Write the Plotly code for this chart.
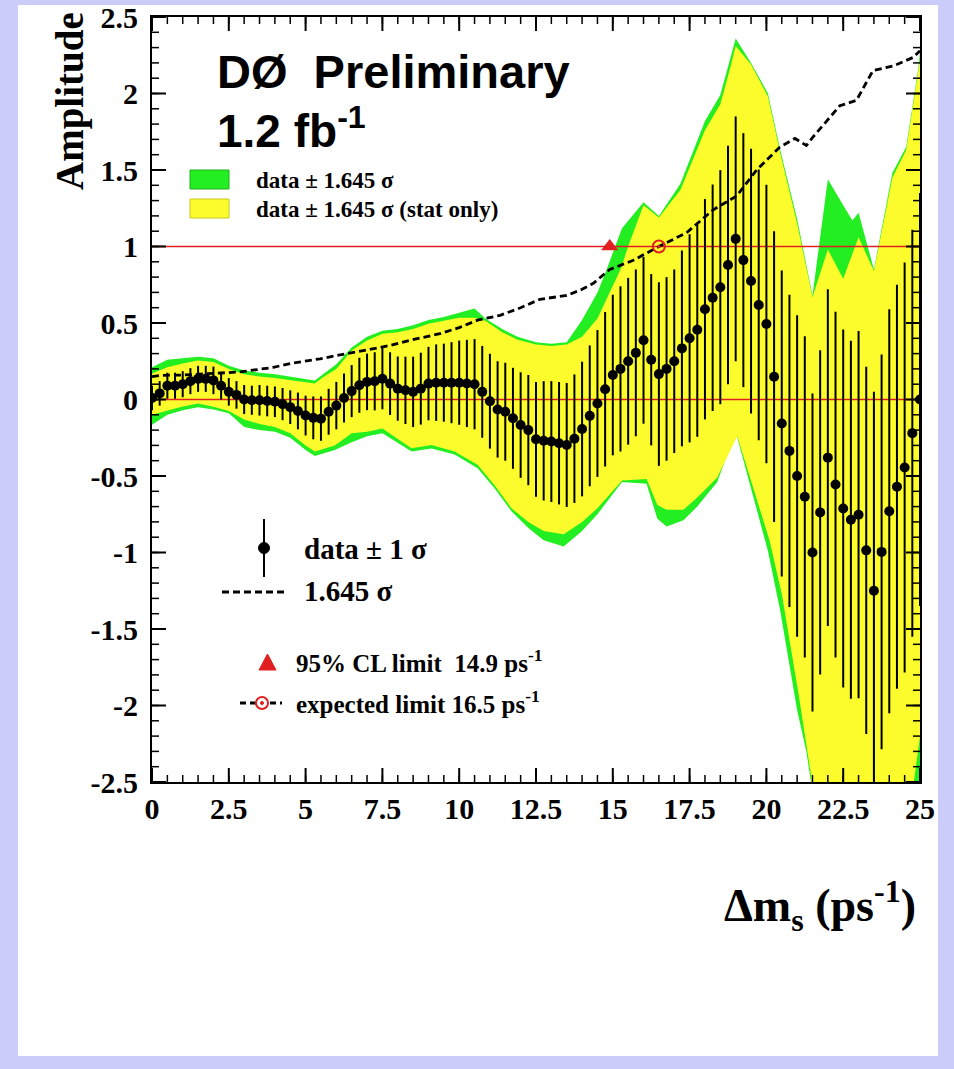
import plotly.graph_objects as go

# ---------------- data ----------------
dm_s = [0.0, 0.25, 0.5, 0.75, 1.0, 1.25, 1.5, 1.75, 2.0, 2.25, 2.5, 2.75, 3.0, 3.25, 3.5, 3.75,
        4.0, 4.25, 4.5, 4.75, 5.0, 5.25, 5.5, 5.75, 6.0, 6.25, 6.5, 6.75, 7.0, 7.25, 7.5, 7.75,
        8.0, 8.25, 8.5, 8.75, 9.0, 9.25, 9.5, 9.75, 10.0, 10.25, 10.5, 10.75, 11.0, 11.25, 11.5,
        11.75, 12.0, 12.25, 12.5, 12.75, 13.0, 13.25, 13.5, 13.75, 14.0, 14.25, 14.5, 14.75, 15.0,
        15.25, 15.5, 15.75, 16.0, 16.25, 16.5, 16.75, 17.0, 17.25, 17.5, 17.75, 18.0, 18.25, 18.5,
        18.75, 19.0, 19.25, 19.5, 19.75, 20.0, 20.25, 20.5, 20.75, 21.0, 21.25, 21.5, 21.75, 22.0,
        22.25, 22.5, 22.75, 23.0, 23.25, 23.5, 23.75, 24.0, 24.25, 24.5, 24.75, 25.0]

amplitude = [0.01, 0.04, 0.09, 0.09, 0.10, 0.12, 0.135, 0.135, 0.125, 0.09, 0.05, 0.03, 0.0,
             -0.005, -0.005, -0.01, -0.015, -0.03, -0.05, -0.075, -0.105, -0.12, -0.125, -0.08,
             -0.04, 0.01, 0.055, 0.093, 0.115, 0.119, 0.136, 0.104, 0.071, 0.06, 0.05, 0.071,
             0.104, 0.11, 0.11, 0.11, 0.11, 0.105, 0.10, 0.05, -0.011, -0.065, -0.08, -0.123,
             -0.167, -0.20, -0.26, -0.27, -0.275, -0.286, -0.297, -0.256, -0.193, -0.107, -0.026,
             0.067, 0.16, 0.20, 0.25, 0.305, 0.387, 0.26, 0.166, 0.20, 0.25, 0.334, 0.40, 0.456,
             0.59, 0.665, 0.734, 0.879, 1.05, 0.911, 0.774, 0.618, 0.494, 0.149, -0.157, -0.336,
             -0.50, -0.636, -1.00, -0.738, -0.38, -0.556, -0.712, -0.786, -0.753, -0.986, -1.25,
             -0.996, -0.73, -0.57, -0.444, -0.22, 0.0]

sigma = [0.08, 0.08, 0.085, 0.085, 0.085, 0.085, 0.085, 0.085, 0.09, 0.09, 0.09, 0.09, 0.095,
         0.095, 0.10, 0.10, 0.10, 0.105, 0.11, 0.12, 0.13, 0.14, 0.145, 0.15, 0.155, 0.16, 0.17,
         0.18, 0.185, 0.19, 0.20, 0.205, 0.21, 0.22, 0.23, 0.235, 0.24, 0.25, 0.255, 0.265, 0.275,
         0.285, 0.295, 0.30, 0.31, 0.315, 0.32, 0.33, 0.345, 0.36, 0.375, 0.39, 0.395, 0.40, 0.405,
         0.42, 0.44, 0.46, 0.48, 0.505, 0.525, 0.54, 0.545, 0.545, 0.545, 0.56, 0.60, 0.60, 0.60,
         0.64, 0.68, 0.70, 0.72, 0.74, 0.765, 0.78, 0.80, 0.83, 0.865, 0.885, 0.91, 0.95, 1.0,
         1.02, 1.05, 1.05, 1.04, 1.06, 1.10, 1.13, 1.17, 1.17, 1.2, 1.2, 1.3, 1.29, 1.32, 1.32,
         1.34, 1.33, 1.35]

# green band: data +- 1.645 sigma (total)
green_up_x = [0, 0.5, 1.0, 1.5, 2.0, 2.5, 3.0, 3.5, 4.0, 4.5, 5.0, 5.3, 5.6, 6.0, 6.5, 7.0, 7.5,
              8.0, 8.5, 9.0, 9.5, 10.0, 10.5, 10.85, 11.4, 11.9, 12.5, 13.0, 13.5, 14.0, 14.5,
              14.8, 15.3, 16.0, 16.5, 17.2, 18.0, 18.5, 19.0, 19.5, 20.05, 20.45, 21.0, 21.5,
              22.0, 22.5, 22.8, 23.0, 23.5, 24.1, 24.55, 24.95, 25.0]
green_up_y = [0.21, 0.26, 0.27, 0.28, 0.27, 0.22, 0.19, 0.175, 0.165, 0.15, 0.135, 0.125, 0.17,
              0.23, 0.34, 0.41, 0.45, 0.46, 0.485, 0.52, 0.54, 0.565, 0.595, 0.53, 0.46, 0.41,
              0.375, 0.365, 0.375, 0.52, 0.70, 0.85, 1.12, 1.29, 1.2, 1.41, 1.82, 1.99, 2.36,
              2.2, 2.0, 1.63, 1.18, 0.68, 1.44, 1.27, 1.17, 1.22, 0.85, 1.48, 1.65, 2.17, 2.28]
green_lo_x = [0, 0.5, 1.0, 1.5, 2.0, 2.5, 3.0, 3.5, 4.0, 4.5, 5.0, 5.3, 5.95, 6.5, 7.0, 7.5,
              8.45, 9.1, 9.85, 10.6, 11.15, 11.7, 12.25, 12.75, 13.4, 14.0, 14.5, 15.3, 16.1,
              16.45, 16.75, 17.3, 17.75, 18.4, 19.0, 20.05, 20.45, 21.0, 21.3, 21.45, 21.6,
              24.8, 25.0]
green_lo_y = [-0.165, -0.10, -0.07, -0.05, -0.065, -0.09, -0.18, -0.20, -0.21, -0.25, -0.33,
              -0.37, -0.33, -0.28, -0.24, -0.22, -0.34, -0.32, -0.36, -0.45, -0.58, -0.73, -0.84,
              -0.92, -0.96, -0.86, -0.75, -0.54, -0.55, -0.78, -0.83, -0.79, -0.70, -0.54, -0.21,
              -0.99, -1.38, -2.03, -2.3, -2.5, -2.9, -2.9, -2.6]

# yellow band: data +- 1.645 sigma (stat only)
yellow_up_x = [0, 0.5, 1.0, 1.5, 2.0, 2.5, 3.0, 3.5, 4.0, 4.5, 5.0, 5.3, 5.6, 6.0, 6.5, 7.0,
               7.5, 8.0, 8.5, 9.0, 9.5, 10.0, 10.5, 10.85, 11.4, 11.9, 12.5, 13.0, 13.5, 14.0,
               14.5, 15.25, 15.5, 16.0, 16.5, 17.2, 18.0, 18.5, 18.8, 19.0, 19.5, 20.05, 20.45,
               21.0, 21.5, 22.0, 22.5, 23.0, 23.5, 24.1, 24.55, 24.95, 25.0]
yellow_up_y = [0.17, 0.21, 0.235, 0.255, 0.245, 0.20, 0.165, 0.15, 0.14, 0.125, 0.11, 0.104,
               0.15, 0.20, 0.32, 0.385, 0.43, 0.44, 0.46, 0.495, 0.515, 0.535, 0.535, 0.515,
               0.44, 0.39, 0.36, 0.35, 0.36, 0.41, 0.53, 0.85, 1.0, 1.27, 1.19, 1.37, 1.76, 1.93,
               2.15, 2.31, 2.19, 1.98, 1.61, 1.15, 0.67, 0.98, 0.79, 1.06, 0.84, 1.45, 1.63,
               2.14, 2.22]
yellow_lo_x = [0, 0.5, 1.0, 1.5, 2.0, 2.5, 3.0, 3.5, 4.0, 4.5, 5.0, 5.3, 5.95, 6.5, 7.0, 7.5,
               8.45, 9.1, 9.85, 10.6, 11.15, 11.7, 12.25, 12.75, 13.4, 14.0, 14.5, 15.3, 16.1,
               16.45, 16.75, 17.3, 17.75, 18.4, 19.05, 20.1, 20.5, 21.05, 21.45, 21.55, 24.75,
               24.8, 25.0]
yellow_lo_y = [-0.10, -0.07, -0.045, -0.026, -0.047, -0.075, -0.13, -0.16, -0.18, -0.22, -0.30,
               -0.34, -0.30, -0.22, -0.21, -0.19, -0.318, -0.297, -0.34, -0.427, -0.56, -0.71,
               -0.80, -0.86, -0.88, -0.80, -0.71, -0.53, -0.52, -0.69, -0.72, -0.72, -0.64,
               -0.51, -0.24, -0.92, -1.27, -1.93, -2.45, -2.9, -2.9, -2.5, -2.2]

# 1.645 sigma (dashed)
sens_x = [0.0, 0.3, 1.0, 2.0, 2.86, 3.95, 4.5, 5.47, 6.34, 7.0, 7.75, 8.45, 9.37, 10.0, 10.62,
          11.33, 12.0, 12.63, 13.5, 14.0, 14.37, 14.9, 15.67, 16.5, 17.4, 18.27, 19.03, 19.68,
          20.44, 20.93, 21.3, 21.52, 22.39, 22.93, 23.47, 24.13, 24.78, 25.0]
sens_y = [0.15, 0.158, 0.16, 0.17, 0.18, 0.21, 0.235, 0.266, 0.30, 0.325, 0.353, 0.39, 0.43,
          0.47, 0.52, 0.55, 0.60, 0.655, 0.68, 0.72, 0.76, 0.85, 0.91, 1.0, 1.09, 1.24, 1.33,
          1.5, 1.65, 1.706, 1.66, 1.716, 1.92, 1.955, 2.15, 2.18, 2.236, 2.28]

cl_limit = 14.9
expected_limit = 16.5
x_range = [0, 25]
y_range = [-2.5, 2.5]
x_tickvals = [0, 2.5, 5, 7.5, 10, 12.5, 15, 17.5, 20, 22.5, 25]
x_ticktext = ["0", "2.5", "5", "7.5", "10", "12.5", "15", "17.5", "20", "22.5", "25"]
y_tickvals = [-2.5, -2, -1.5, -1, -0.5, 0, 0.5, 1, 1.5, 2, 2.5]
y_ticktext = ["-2.5", "-2", "-1.5", "-1", "-0.5", "0", "0.5", "1", "1.5", "2", "2.5"]
x_minor_vals = [i * 0.5 for i in range(51)]
y_minor_vals = [round(-2.5 + i * 0.1, 2) for i in range(51)]

# ---------------- style ----------------
GREEN = "#22EE22"
YELLOW = "#FCFC2C"
RED = "#E02020"
LAVENDER = "#CCCCFA"
SERIF = "Liberation Serif"
SANS = "Liberation Sans"
W, H = 954, 1069
L, R, T, B = 152, 34, 17, 287
PW, PH = W - L - R, H - T - B
MAJOR_LEN, MINOR_LEN = 14, 7


def px(xp):
    return (xp - L) / PW


def py(yp):
    return (H - B - yp) / PH


fig = go.Figure()

fig.add_trace(go.Scatter(x=green_up_x + green_lo_x[::-1], y=green_up_y + green_lo_y[::-1],
                         fill="toself", fillcolor=GREEN, mode="lines",
                         line=dict(width=0, color=GREEN), hoverinfo="skip", showlegend=False))
fig.add_trace(go.Scatter(x=yellow_up_x + yellow_lo_x[::-1], y=yellow_up_y + yellow_lo_y[::-1],
                         fill="toself", fillcolor=YELLOW, mode="lines",
                         line=dict(width=0, color=YELLOW), hoverinfo="skip", showlegend=False))

for yv in (0, 1):
    fig.add_trace(go.Scatter(x=x_range, y=[yv, yv], mode="lines",
                             line=dict(color=RED, width=1.6), hoverinfo="skip", showlegend=False))

fig.add_trace(go.Scatter(x=dm_s, y=amplitude, mode="markers",
                         marker=dict(color="black", size=10),
                         error_y=dict(type="data", array=sigma, color="black", thickness=2, width=0),
                         showlegend=False))

fig.add_trace(go.Scatter(x=sens_x, y=sens_y, mode="lines",
                         line=dict(color="black", width=2.8, dash="7px,4px"), showlegend=False))

fig.add_trace(go.Scatter(x=[cl_limit], y=[1], mode="markers",
                         marker=dict(symbol="triangle-up", color=RED, size=15), showlegend=False))
fig.add_trace(go.Scatter(x=[expected_limit], y=[1], mode="markers",
                         marker=dict(symbol="circle-open-dot", color=RED, size=12,
                                     line=dict(width=2, color=RED)), showlegend=False))

shapes = []
# tick marks (inside, on all four sides)
for vals, ln, wd in ((x_minor_vals, MINOR_LEN, 1.5), (x_tickvals, MAJOR_LEN, 2)):
    for v in vals:
        shapes.append(dict(type="line", xref="x", yref="paper", x0=v, x1=v, y0=0, y1=ln / PH,
                           line=dict(color="black", width=wd)))
        shapes.append(dict(type="line", xref="x", yref="paper", x0=v, x1=v, y0=1 - ln / PH,
                           y1=1, line=dict(color="black", width=wd)))
for vals, ln, wd in ((y_minor_vals, MINOR_LEN, 1.5), (y_tickvals, MAJOR_LEN, 2)):
    for v in vals:
        shapes.append(dict(type="line", xref="paper", yref="y", x0=0, x1=ln / PW, y0=v, y1=v,
                           line=dict(color="black", width=wd)))
        shapes.append(dict(type="line", xref="paper", yref="y", x0=1 - ln / PW, x1=1, y0=v,
                           y1=v, line=dict(color="black", width=wd)))
# lavender page border
for x0, x1, y0, y1 in ((0, 18, 0, H), (938, W, 0, H), (0, W, 0, 5), (0, W, 1056, H)):
    shapes.append(dict(type="rect", xref="paper", yref="paper", x0=px(x0), x1=px(x1),
                       y0=py(y1), y1=py(y0), fillcolor=LAVENDER, line=dict(width=0)))
# legend 1 boxes
shapes.append(dict(type="rect", xref="paper", yref="paper", x0=px(190), x1=px(229), y0=py(189),
                   y1=py(170), fillcolor=GREEN, line=dict(width=1, color="#20B020")))
shapes.append(dict(type="rect", xref="paper", yref="paper", x0=px(190), x1=px(229), y0=py(218),
                   y1=py(199), fillcolor=YELLOW, line=dict(width=1, color="#C8C820")))
# legend 2 glyphs
shapes.append(dict(type="line", xref="paper", yref="paper", x0=px(264), x1=px(264), y0=py(577),
                   y1=py(519), line=dict(color="black", width=2)))
shapes.append(dict(type="circle", xref="paper", yref="paper", x0=px(258.5), x1=px(269.5),
                   y0=py(553.5), y1=py(542.5), fillcolor="black", line=dict(color="black", width=1)))
shapes.append(dict(type="line", xref="paper", yref="paper", x0=px(222), x1=px(288), y0=py(592),
                   y1=py(592), line=dict(color="black", width=2.8, dash="7px,4px")))
shapes.append(dict(type="path", xref="paper", yref="paper",
                   path="M {} {} L {} {} L {} {} Z".format(px(259), py(670), px(276), py(670),
                                                         px(267.5), py(654)),
                   fillcolor=RED, line=dict(color=RED, width=1)))
shapes.append(dict(type="line", xref="paper", yref="paper", x0=px(240), x1=px(282), y0=py(703),
                   y1=py(703), line=dict(color="black", width=2.8, dash="6px,4px")))
shapes.append(dict(type="circle", xref="paper", yref="paper", x0=px(256), x1=px(268), y0=py(709),
                   y1=py(697), fillcolor="white", line=dict(color=RED, width=2)))
shapes.append(dict(type="circle", xref="paper", yref="paper", x0=px(260.5), x1=px(263.5),
                   y0=py(704.5), y1=py(701.5), fillcolor=RED, line=dict(color=RED, width=1)))


def ann(text, xp, yp, size, family=SERIF, xanchor="left", angle=0):
    return dict(text=text, x=px(xp), y=py(yp), xref="paper", yref="paper", showarrow=False,
                xanchor=xanchor, yanchor="middle", textangle=angle,
                font=dict(family=family, size=size, color="black", weight="bold"))


annotations = [
    ann("DØ  Preliminary", 215, 72, 47, SANS),
    ann("1.2 fb<sup>-1</sup>", 215, 128, 46, SANS),
    ann("data ± 1.645 σ", 254, 180, 23),
    ann("data ± 1.645 σ (stat only)", 254, 209, 23),
    ann("data ± 1 σ", 302, 549, 29),
    ann("1.645 σ", 302, 591, 29),
    ann("95% CL limit  14.9 ps<sup>-1</sup>", 294, 661, 25),
    ann("expected limit 16.5 ps<sup>-1</sup>", 294, 702, 25),
    ann("Δm<sub>s</sub> (ps<sup>-1</sup>)", 918, 905, 46, xanchor="right"),
    ann("Amplitude", 70, 101, 39, xanchor="center", angle=-90),
]

tickfont = dict(family=SERIF, size=30, color="black", weight="bold")
axis_common = dict(showline=True, linecolor="black", linewidth=2, mirror=True, ticks="",
                   showgrid=False, zeroline=False, tickmode="array", tickfont=tickfont)

fig.update_layout(
    width=W, height=H, margin=dict(l=L, r=R, t=T, b=B, autoexpand=False),
    paper_bgcolor="white", plot_bgcolor="white",
    shapes=shapes, annotations=annotations, showlegend=False,
    xaxis=dict(range=x_range, tickvals=x_tickvals, ticktext=x_ticktext, ticklabelstandoff=-1,
               **axis_common),
    yaxis=dict(range=y_range, tickvals=y_tickvals, ticktext=y_ticktext, ticklabelstandoff=6,
               **axis_common),
)

fig.write_html("out.html")
